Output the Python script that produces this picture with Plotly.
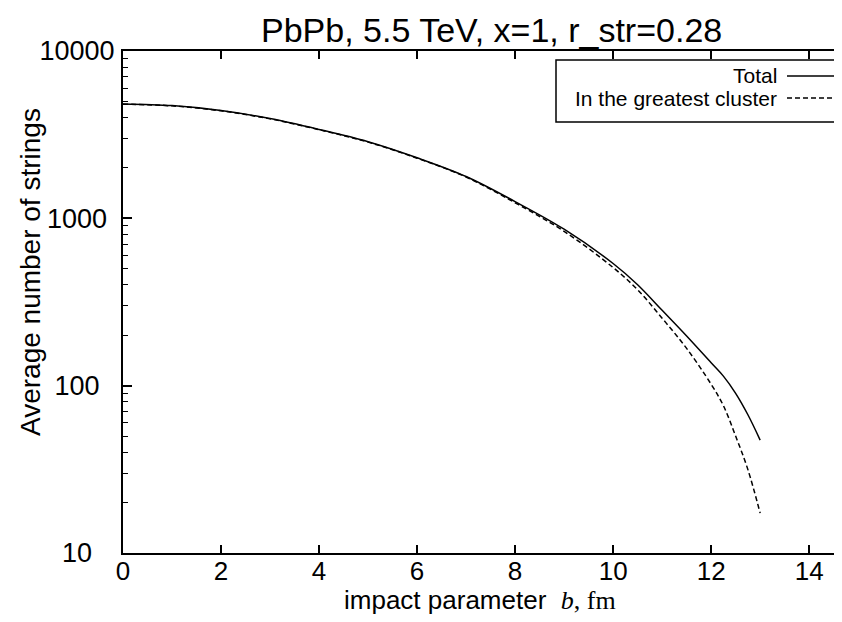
import plotly.graph_objects as go

b_total = [0, 1, 2, 3, 4, 5, 6, 7, 8, 9, 10, 10.5, 11, 11.5, 12, 12.25, 12.5, 12.75, 13]
n_total = [4830, 4720, 4410, 3950, 3400, 2870, 2300, 1778, 1259, 861, 537, 401, 282, 198, 137, 114, 90, 67, 47.3]

b_cluster = [0, 1, 2, 3, 4, 5, 6, 7, 8, 9, 10, 10.5, 11, 11.5, 12, 12.25, 12.5, 12.75, 13]
n_cluster = [4810, 4700, 4390, 3930, 3385, 2855, 2288, 1766, 1239, 836, 508, 374, 253, 167, 102, 76, 50, 31.5, 17.3]

y_ticks = [10, 100, 1000, 10000]
y_ticktext = ["10\u2007\u2008", "100\u2007", "1000\u2008", "10000"]
x_ticks = [0, 2, 4, 6, 8, 10, 12, 14]

minor_vals = [k * 10 ** e for e in range(1, 4) for k in range(2, 10)]

FONT = "Liberation Sans, Arial, sans-serif"

OFF = 8  # page body margin offset
W, H = 842 - OFF, 622 - 2 * OFF
L, T = 123 - OFF, 51 - OFF
B = H - (553 - OFF)
R = 0
pw, ph = W - L - R, H - T - B


def px(xs):
    return (xs - OFF - L) / pw


def py(ys):
    return 1 - (ys - OFF - T) / ph


fig = go.Figure()
fig.add_trace(go.Scatter(x=b_total, y=n_total, mode="lines", name="Total",
                         line=dict(color="black", width=1.5, shape="spline", smoothing=1.0),
                         showlegend=False))
fig.add_trace(go.Scatter(x=b_cluster, y=n_cluster, mode="lines", name="In the greatest cluster",
                         line=dict(color="black", width=1.5, dash="5px,3px", shape="spline", smoothing=1.0),
                         showlegend=False))

fig.update_layout(
    width=W, height=H,
    margin=dict(l=L, r=R, t=T, b=B, pad=0),
    paper_bgcolor="white", plot_bgcolor="white",
    font=dict(family=FONT, size=26, color="black"),
    xaxis=dict(range=[0, 14.67], tickvals=x_ticks, ticks="inside", ticklen=8, tickwidth=1.5,
               tickcolor="black", showline=True, linecolor="black", linewidth=2,
               mirror="ticks", showgrid=False, zeroline=False, ticklabelstandoff=-6,
               tickfont=dict(size=26, family=FONT)),
    yaxis=dict(type="log", range=[1, 4], tickvals=y_ticks, ticktext=y_ticktext,
               ticks="inside", ticklen=9, tickwidth=1.5, tickcolor="black",
               showline=True, linecolor="black", linewidth=2, mirror=False,
               showgrid=False, zeroline=False, ticklabelstandoff=1,
               tickfont=dict(size=27, family=FONT),
               minor=dict(tickvals=minor_vals, ticks="inside", ticklen=5,
                          tickwidth=1.2, tickcolor="black", showgrid=False)),
    showlegend=False,
)

annotations = [
    dict(text="PbPb, 5.5 TeV, x=1, r_str=0.28", x=px(491), y=py(8.5), xref="paper", yref="paper",
         showarrow=False, font=dict(size=34, family=FONT), xanchor="center", yanchor="top"),
    dict(text="Average number of strings", x=px(30), y=py(272), xref="paper", yref="paper",
         showarrow=False, textangle=-90, font=dict(size=28, family=FONT),
         xanchor="center", yanchor="middle"),
    dict(text="impact parameter  <span style='font-family:Liberation Serif'><i>b</i>, fm</span>",
         x=px(480), y=py(600), xref="paper", yref="paper", showarrow=False,
         font=dict(size=26, family=FONT), xanchor="center", yanchor="middle"),
    dict(text="Total", x=px(779), y=py(76), xref="paper", yref="paper", showarrow=False,
         font=dict(size=21, family=FONT), xanchor="right", yanchor="middle"),
    dict(text="In the greatest cluster", x=px(779), y=py(98), xref="paper", yref="paper",
         showarrow=False, font=dict(size=21, family=FONT), xanchor="right", yanchor="middle"),
]
fig.update_layout(annotations=annotations)

shapes = [
    dict(type="rect", xref="paper", yref="paper", x0=px(556), x1=1.02, y0=py(122), y1=py(60),
         line=dict(color="black", width=1.5), fillcolor="white", layer="above"),
    dict(type="line", xref="paper", yref="paper", x0=px(787), x1=px(835), y0=py(76), y1=py(76),
         line=dict(color="black", width=1.5)),
    dict(type="line", xref="paper", yref="paper", x0=px(787), x1=px(835), y0=py(98), y1=py(98),
         line=dict(color="black", width=1.5, dash="5px,3px")),
]
fig.update_layout(shapes=shapes)

fig.write_html("out.html")
